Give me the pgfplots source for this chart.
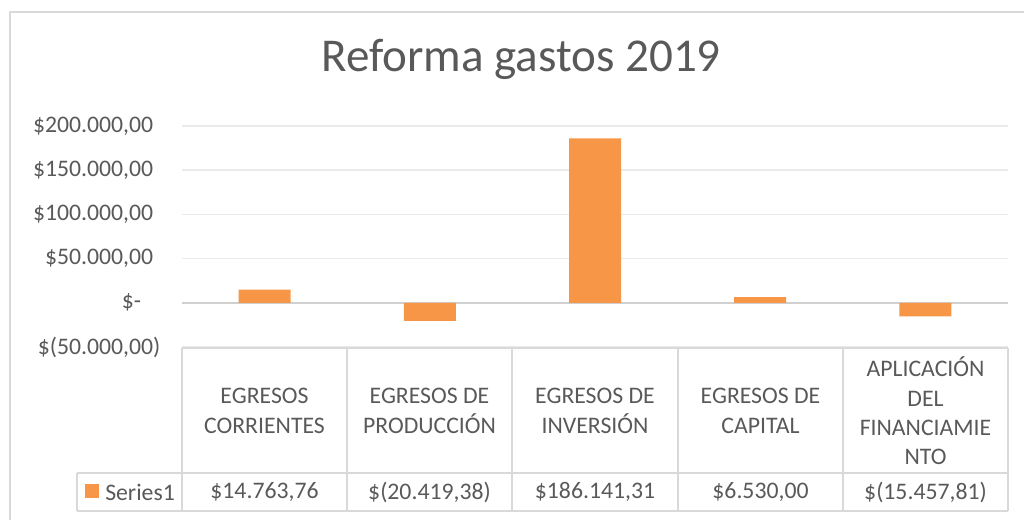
\documentclass[border=0pt]{standalone}
\usepackage{fontspec}
\setmainfont{Carlito}
\usepackage{pgfplots}
\pgfplotsset{compat=1.18}
\definecolor{barorange}{HTML}{F79646}
\definecolor{txtgray}{HTML}{595959}
\definecolor{gridgray}{HTML}{EBEBEB}
\definecolor{zerogray}{HTML}{D0D0D0}
\definecolor{tblgray}{HTML}{D9D9D9}

% pixel -> pt (1px = 0.75pt), y runs downward
\newcommand{\px}[2]{(#1*0.75pt,-#2*0.75pt)}

\begin{document}
\begin{tikzpicture}
\path[use as bounding box] (0,0) rectangle (768pt,-390pt);
% outer chart frame
\draw[tblgray, line width=1.2pt] \px{10}{530} -- \px{10}{12} -- \px{1030}{12};

\node[txtgray, font=\fontsize{35.3}{40}\selectfont, anchor=base] at \px{521}{72} {Reforma gastos 2019};

\begin{axis}[
  at={(136.5pt,-260.25pt)}, anchor=south west,
  scale only axis,
  width=619.5pt, height=165.75pt,
  xmin=-0.5, xmax=4.5,
  ymin=-50000, ymax=200000,
  xtick=\empty,
  ytick={-50000,0,50000,100000,150000,200000},
  scaled y ticks=false,
  yticklabels={{\$(50.000,00)},{\$-\hphantom{0)}},{\$50.000,00\hphantom{)}},{\$100.000,00\hphantom{)}},{\$150.000,00\hphantom{)}},{\$200.000,00\hphantom{)}}},
  yticklabel style={font=\fontsize{17.8}{20}\selectfont, text=txtgray, inner sep=0pt, anchor=east, xshift=-16pt},
  major tick length=0pt,
  axis line style={draw=none},
  ymajorgrids, grid style={gridgray, line width=1.2pt},
  ybar, bar width=39pt,
]
\draw[zerogray, line width=1.5pt] (axis cs:-0.5,0) -- (axis cs:4.5,0);
\addplot[fill=barorange, draw=none] coordinates {
  (0,14763.76) (1,-20419.38) (2,186141.31) (3,6530.00) (4,-15457.81)
};
\end{axis}

% data table
\begin{scope}[tblgray, line width=1.4pt]
\draw \px{182}{348} -- \px{1008}{348};
\draw \px{77}{473} -- \px{1008}{473};
\draw \px{77}{511} -- \px{1008}{511};
\draw \px{77}{473} -- \px{77}{511};
\foreach \xx in {182,347,512,678,843,1008} {\draw \px{\xx}{348} -- \px{\xx}{511};}
\end{scope}

\begin{scope}[every node/.style={txtgray, font=\fontsize{17.8}{22}\selectfont, align=center, inner sep=0pt}]
\node at \px{264.5}{411} {EGRESOS\\CORRIENTES};
\node at \px{429.5}{411} {EGRESOS DE\\PRODUCCIÓN};
\node at \px{595}{411} {EGRESOS DE\\INVERSIÓN};
\node at \px{760.5}{411} {EGRESOS DE\\CAPITAL};
\node at \px{925.5}{411} {APLICACIÓN\\DEL\\FINANCIAMIE\\NTO};
\node at \px{264.5}{492} {\$14.763,76};
\node at \px{429.5}{492} {\$(20.419,38)};
\node at \px{595}{492} {\$186.141,31};
\node at \px{760.5}{492} {\$6.530,00};
\node at \px{925.5}{492} {\$(15.457,81)};
\node[anchor=west] at \px{105}{492} {Series1};
\end{scope}
\fill[barorange] \px{85}{484} rectangle \px{99}{498};
\end{tikzpicture}
\end{document}
